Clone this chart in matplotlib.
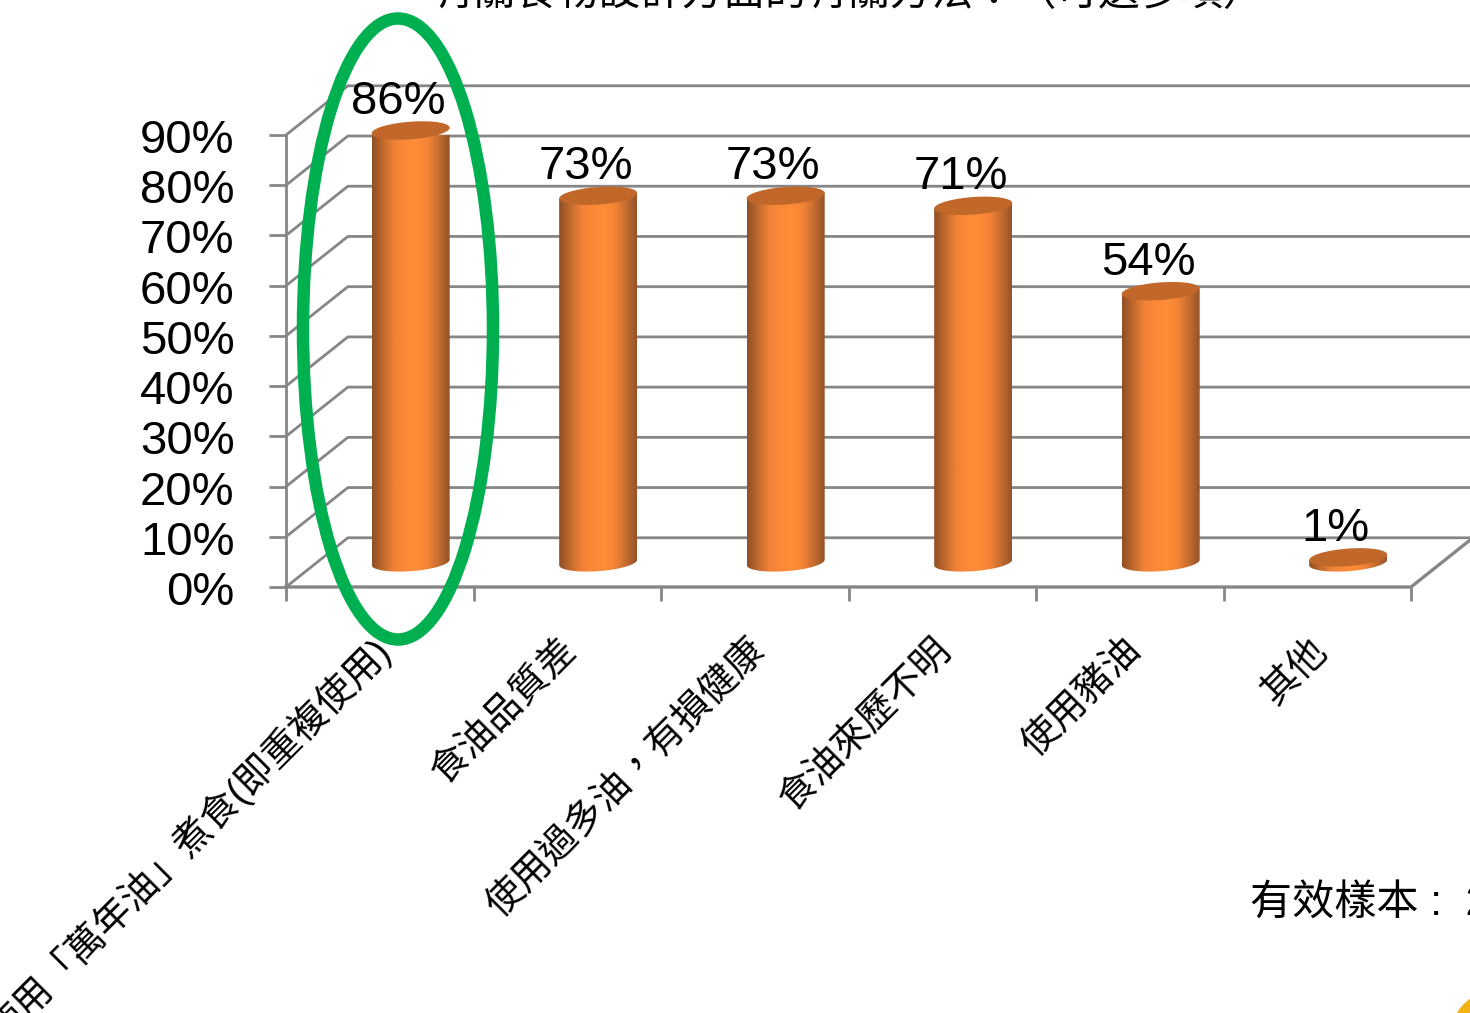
import numpy as np
import matplotlib
matplotlib.use("Agg")
import matplotlib.pyplot as plt
from matplotlib.colors import LinearSegmentedColormap
from matplotlib.patches import Ellipse, PathPatch
from matplotlib.path import Path
from matplotlib.transforms import ScaledTranslation

plt.rcParams['font.family'] = ['Liberation Sans', 'Noto Sans CJK TC', 'DejaVu Sans']

# data
categories = ['使用「萬年油」煮食(即重複使用)', '食油品質差', '使用過多油，有損健康',
              '食油來歷不明', '使用豬油', '其他']
values = [86, 73, 73, 71, 54, 1]
value_labels = ['86%', '73%', '73%', '71%', '54%', '1%']
y_ticks = [0, 10, 20, 30, 40, 50, 60, 70, 80, 90]
y_ticklabels = ['0%', '10%', '20%', '30%', '40%', '50%', '60%', '70%', '80%', '90%']
title = '有關食物設計方面的有關方法：（可選多項）'
sample_note = '有效樣本 :  2'

W, H = 1470, 1013
GRID = '#868686'
ORANGE_TOP = '#c1672a'

fig = plt.figure(figsize=(W / 100, H / 100), dpi=100)
fig.patch.set_facecolor('white')
# axes is the front plane of the 3d box, 286..1411 px wide, 587..135 px high
ax = fig.add_axes([286 / W, 1 - 587 / H, (1411 - 286) / W, (587 - 135) / H])
ax.set_xlim(0, 6)
ax.set_ylim(0, 90)
ax.patch.set_alpha(0)
for s in ax.spines.values():
    s.set_visible(False)

# depth of the box, in data units
dx, dy = 0.33, 9.8

for v in y_ticks:
    ax.plot([0, dx, 6 + dx], [v, v + dy, v + dy], color=GRID, lw=2, clip_on=False, zorder=1)
ax.plot([0, 0], [0, 90], color=GRID, lw=2, clip_on=False, zorder=1)
ax.plot([0, 6, 6 + dx], [0, 0, dy], color=GRID, lw=2.4, clip_on=False, zorder=1.5)

ax.set_xticks(np.arange(0, 7))
ax.set_xticklabels([])
ax.set_yticks(y_ticks)
ax.set_yticklabels(y_ticklabels, fontsize=34, color='black')
ax.tick_params(axis='y', length=12, width=2, color=GRID, pad=25)
ax.tick_params(axis='x', length=10, width=2, color=GRID, pad=0)
shift_down = ScaledTranslation(0, -6 / 100, fig.dpi_scale_trans)
for lab in ax.get_yticklabels():
    lab.set_verticalalignment('center')
    lab.set_transform(lab.get_transform() + shift_down)

# cylinders
cyl = LinearSegmentedColormap.from_list('cyl', ['#8f4f24', '#c06a2e', '#f08237', '#fb8937',
                                                '#fe8d38', '#f58436', '#c56d30', '#94532a'])
grad = np.linspace(0, 1, 256).reshape(1, -1)
half_w = 0.208
ell_h = 1.75
ell_tilt = 0.55
base = 4.9
t = np.linspace(0, 2 * np.pi, 121)

for i, v in enumerate(values):
    cx = i + 0.5 + 0.165
    top = base + v
    tb = np.linspace(np.pi, 2 * np.pi, 60)
    xs = cx + half_w * np.cos(tb)
    ys = base + ell_h * np.sin(tb) + ell_tilt * np.cos(tb)
    verts = list(zip(xs, ys)) + [(cx + half_w, top + ell_tilt), (cx - half_w, top - ell_tilt)]
    body = PathPatch(Path(verts + [verts[0]]), transform=ax.transData, fc='none', ec='none')
    ax.add_patch(body)
    im = ax.imshow(grad, cmap=cyl, aspect='auto', zorder=3, interpolation='bilinear',
                   extent=[cx - half_w, cx + half_w, base - 3, top + 2])
    im.set_clip_path(body)
    ax.fill(cx + half_w * np.cos(t), top + ell_h * np.sin(t) + ell_tilt * np.cos(t),
            color=ORANGE_TOP, lw=0, zorder=4, clip_on=False)
    ax.text(cx - 0.068, top + 1.3, value_labels[i], ha='center', va='bottom', fontsize=34,
            color='black', zorder=5)
ax.set_xlim(0, 6)
ax.set_ylim(0, 90)

# rotated category labels
label_anchor = [(385, 645), (572, 645), (760, 645), (946, 645), (1135, 645), (1321, 645)]
for name, (px, py) in zip(categories, label_anchor):
    fig.text(px / W, 1 - py / H, name, rotation=45, rotation_mode='anchor', ha='right', va='center',
             fontsize=27.2, color='black', family=['Liberation Sans', 'Noto Sans CJK TC'])

# green highlight ring
ring = Ellipse((398 / W, 1 - 329 / H), 190 / W, 621 / H, transform=fig.transFigure,
               fc='none', ec='#00b050', lw=9, zorder=6)
fig.add_artist(ring)

fig.text(848 / W, 1 - 5 / H, title, ha='center', va='baseline', fontsize=30, color='black')
fig.text(1250 / W, 1 - 905 / H, sample_note, ha='left', va='center', fontsize=30.3, color='black')

# corner of the yellow slide ornament
fig.add_artist(Ellipse((1500 / W, 1 - 1040 / H), 102 / W, 102 / H, transform=fig.transFigure,
                       fc='#f0b313', ec='none'))

fig.savefig('out.png', dpi=100)
